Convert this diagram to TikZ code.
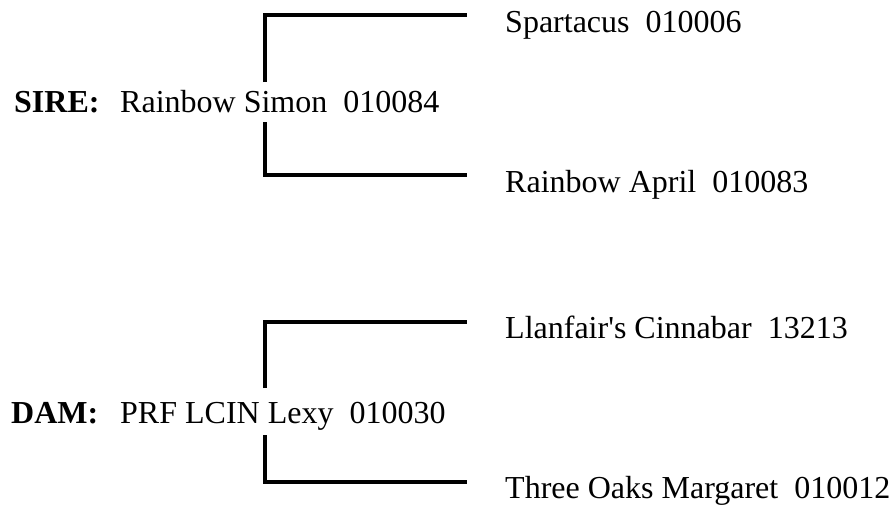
\documentclass[tikz,border=0pt]{standalone}
\usepackage{fontspec}
\setmainfont{Liberation Serif}
\begin{document}
\begin{tikzpicture}[x=1pt,y=-1pt,
  lbl/.style={anchor=base west,inner sep=0pt,font=\fontsize{32}{38}\selectfont},
  role/.style={lbl,font=\fontsize{32}{38}\selectfont\bfseries},
  bracket/.style={line width=4pt,line cap=butt,line join=miter}]
\useasboundingbox (0,0) rectangle (890,506);
% sire
\node[role] (sirelab) at (14,112) {SIRE:};
\node[lbl] (sire) at (120,112) {Rainbow Simon\ \ 010084};
\node[lbl] (ss) at (505,32) {Spartacus\ \ 010006};
\node[lbl] (sd) at (505,192) {Rainbow April\ \ 010083};
\coordinate (sireup) at (265,82);
\coordinate (siredn) at (265,122);
\coordinate (ssend) at (467,15);
\coordinate (sdend) at (467,175);
\draw[bracket] (sireup) |- (ssend);
\draw[bracket] (siredn) |- (sdend);
% dam
\node[role] (damlab) at (11,423) {DAM:};
\node[lbl] (dam) at (120,423) {PRF LCIN Lexy\ \ 010030};
\node[lbl] (ds) at (505,338) {Llanfair\textquotesingle s Cinnabar\ \ 13213};
\node[lbl] (dd) at (505,498) {Three Oaks Margaret\ \ 010012};
\coordinate (damup) at (265,388);
\coordinate (damdn) at (265,435);
\coordinate (dsend) at (467,322);
\coordinate (ddend) at (467,482);
\draw[bracket] (damup) |- (dsend);
\draw[bracket] (damdn) |- (ddend);
\end{tikzpicture}
\end{document}
